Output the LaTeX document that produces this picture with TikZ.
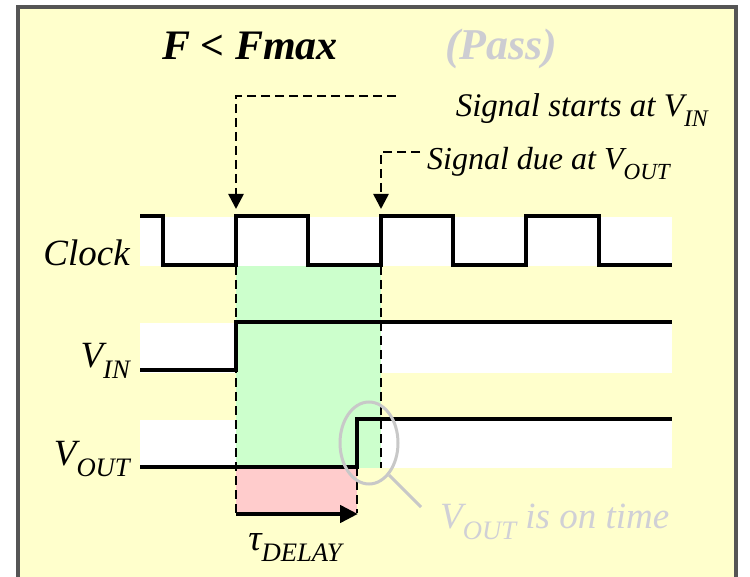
\documentclass[tikz,border=0pt]{standalone}
\usepackage{fontspec}
\setmainfont{Liberation Serif}
\usetikzlibrary{arrows.meta}
\definecolor{bgyel}{HTML}{FFFFCC}
\definecolor{framegray}{HTML}{555555}
\definecolor{grn}{HTML}{CCFFCC}
\definecolor{pnk}{HTML}{FFCCCC}
\definecolor{passgray}{HTML}{CDCDD2}
\definecolor{ringgray}{HTML}{C8C8C8}
\definecolor{notegray}{HTML}{D0D0D6}
\newcommand{\lowsub}[1]{\raisebox{-0.3em}{\scalebox{0.72}{#1}}}
\tikzset{
  wave/.style={line width=3.5pt, line join=miter, black},
  guide/.style={line width=2.6pt, dash pattern=on 9pt off 5pt, black},
  band/.style={fill=white},
  lbl/.style={inner sep=0pt, font=\fontsize{37}{40}\selectfont\itshape},
  note/.style={inner sep=0pt, font=\fontsize{32}{36}\selectfont\itshape},
  downarrow/.style={-{Triangle[length=15pt,width=15pt]}},
}
\begin{document}
\begin{tikzpicture}[x=1pt,y=-1pt]
\useasboundingbox (0,0) rectangle (750,577);
\fill[white] (0,0) rectangle (750,577);
\draw[framegray, line width=3.5pt, fill=bgyel] (18,7) rectangle (736,600);

% bands
\fill[band] (140,217) rectangle (672,266);
\fill[band] (140,323) rectangle (672,373);
\fill[band] (140,420) rectangle (672,468);
% highlighted regions
\fill[grn] (236,266) rectangle (381,468);
\fill[pnk] (236,467) rectangle (357,513);

% coordinates
\coordinate (inStart) at (396,96);
\coordinate (inCorner) at (236,96);
\coordinate (inTip) at (236,209);
\coordinate (dueStart) at (420,152);
\coordinate (dueCorner) at (381,152);
\coordinate (dueTip) at (381,209);
\coordinate (dlyA) at (236,514);
\coordinate (dlyB) at (358,514);

% guide lines
\draw[guide] (236,266) -- (236,513);
\draw[guide] (381,266) -- (381,468);
\draw[guide] (357,467) -- (357,513);
\draw[guide, downarrow] (inStart) -- (inCorner) -- (inTip);
\draw[guide, downarrow] (dueStart) -- (dueCorner) -- (dueTip);

% waveforms
\draw[wave] (140,216) -- (163,216) -- (163,265) -- (236,265) -- (236,216) -- (308,216) -- (308,265) -- (381,265) -- (381,216) -- (453,216) -- (453,265) -- (526,265) -- (526,216) -- (599,216) -- (599,265) -- (672,265);
\draw[wave] (140,370) -- (236,370) -- (236,322) -- (672,322);
\draw[wave] (140,467) -- (357,467) -- (357,419) -- (672,419);

% delay arrow
\draw[line width=4.5pt, -{Triangle[length=18pt,width=17pt]}] (dlyA) -- (dlyB);

% magnifier
\draw[ringgray, line width=3pt] (369,443) ellipse [x radius=29pt, y radius=41pt];
\draw[ringgray, line width=3pt] (389,475) -- (421,507);

% texts
\node[inner sep=0pt, anchor=base west, font=\fontsize{42}{46}\selectfont\bfseries\itshape] (title) at (162,60) {F < Fmax};
\node[inner sep=0pt, anchor=base west, text=passgray, font=\fontsize{44}{48}\selectfont\bfseries\itshape] (pass) at (445,60) {(Pass)};
\node[note, anchor=base east, font=\fontsize{33}{36}\selectfont\itshape] (starts) at (708,117) {Signal starts at V\lowsub{IN}};
\node[note, anchor=base west] (due) at (427,170) {Signal due at V\lowsub{OUT}};
\node[lbl, anchor=base east] (clk) at (130,266) {Clock};
\node[lbl, anchor=base east] (vin) at (130,367) {V\lowsub{IN}};
\node[lbl, anchor=base east] (vout) at (130,465) {V\lowsub{OUT}};
\node[lbl, anchor=base] (tau) at (295,550) {τ\lowsub{DELAY}};
\node[lbl, text=notegray, anchor=base west, font=\fontsize{37}{40}\selectfont\itshape] (ontime) at (440,528) {V\lowsub{OUT} is on time};
\end{tikzpicture}
\end{document}
